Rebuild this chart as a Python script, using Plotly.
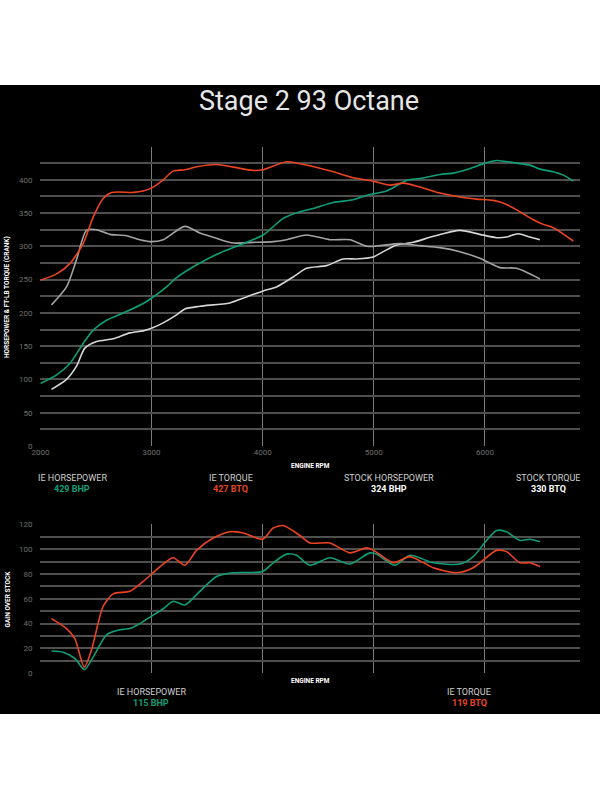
import plotly.graph_objects as go

# ---------------- data ----------------
ie_tq_rpm = [2000, 2150, 2265, 2385, 2475, 2565, 2640, 2835, 2925, 3015, 3105, 3195, 3300, 3420, 3585, 3735, 3915, 4005, 4215, 4335, 4425, 4635, 4815, 4995, 5145, 5265, 5416, 5596, 5776, 5926, 6076, 6196, 6316, 6436, 6526, 6616, 6796]
ie_tq = [249, 259, 274, 304, 344, 372, 381, 381, 383, 389, 400, 413, 415, 420, 423, 419, 414, 415, 427, 424, 421, 412, 403, 398, 392, 395, 389, 380, 374, 371, 369, 363, 352, 340, 333, 328, 308]

ie_hp_rpm = [2000, 2146, 2265, 2385, 2475, 2595, 2775, 2925, 3000, 3135, 3225, 3435, 3615, 3795, 4005, 4185, 4335, 4455, 4635, 4815, 4965, 5115, 5295, 5416, 5596, 5715, 5866, 6001, 6106, 6286, 6406, 6496, 6616, 6706, 6796]
ie_hp = [94, 107, 124, 154, 174, 189, 202, 214, 222, 239, 253, 275, 290, 302, 317, 342, 352, 357, 366, 370, 378, 383, 399, 402, 408, 410, 417, 425, 429, 425, 422, 416, 412, 407, 398]

stock_tq_rpm = [2100, 2235, 2325, 2415, 2505, 2625, 2775, 2895, 3000, 3105, 3300, 3435, 3585, 3735, 3915, 4095, 4215, 4395, 4605, 4785, 4935, 5055, 5235, 5415, 5595, 5775, 5955, 6135, 6285, 6495]
stock_tq = [212, 239, 280, 324, 325, 318, 316, 310, 307, 310, 330, 320, 312, 305, 306, 307, 310, 317, 310, 310, 300, 301, 304, 301, 298, 292, 282, 268, 267, 251]

stock_hp_rpm = [2100, 2235, 2325, 2400, 2505, 2655, 2805, 2925, 3000, 3105, 3225, 3300, 3435, 3705, 3855, 4005, 4125, 4275, 4395, 4575, 4725, 4845, 4995, 5085, 5205, 5355, 5535, 5775, 5955, 6105, 6195, 6300, 6405, 6495]
stock_hp = [85, 100, 120, 147, 157, 161, 170, 173, 177, 185, 197, 206, 210, 215, 224, 233, 239, 254, 267, 271, 281, 281, 284, 292, 302, 306, 315, 324, 318, 313, 314, 319, 314, 310]

gain_tq_rpm = [2100, 2235, 2310, 2395, 2460, 2565, 2655, 2805, 2925, 3015, 3105, 3195, 3300, 3405, 3555, 3705, 3825, 4000, 4095, 4185, 4335, 4425, 4605, 4785, 4935, 5000, 5175, 5325, 5535, 5745, 5895, 6105, 6195, 6315, 6405, 6495]
gain_tq = [44, 36, 28, 5, 19, 54, 64, 66, 74, 81, 88, 93, 87, 99, 109, 114, 113, 108, 117, 119, 111, 105, 105, 97, 101, 99, 89, 94, 85, 81, 85, 99, 98, 89, 89, 86]

gain_hp_rpm = [2100, 2205, 2310, 2395, 2475, 2595, 2715, 2805, 2895, 3000, 3105, 3195, 3300, 3435, 3585, 3735, 4000, 4095, 4215, 4305, 4425, 4605, 4785, 4965, 5025, 5190, 5325, 5535, 5775, 5895, 6015, 6105, 6195, 6315, 6405, 6495]
gain_hp = [18, 17, 12, 3, 13, 31, 35, 36, 40, 46, 52, 58, 55, 66, 78, 81, 82, 89, 96, 95, 87, 93, 88, 97, 96, 87, 95, 89, 88, 94, 107, 115, 114, 107, 108, 106]

top_yticks = list(range(0, 426, 25))
top_ylabels = [str(v) if v % 50 == 0 else "" for v in top_yticks]
x_ticks = [2000, 3000, 4000, 5000, 6000]
bot_yticks = list(range(0, 121, 10))
bot_ylabels = [str(v) if v % 20 == 0 else "" for v in bot_yticks]

legend_top = [("IE HORSEPOWER", "429 BHP"), ("IE TORQUE", "427 BTQ"),
              ("STOCK HORSEPOWER", "324 BHP"), ("STOCK TORQUE", "330 BTQ")]
legend_bot = [("IE HORSEPOWER", "115 BHP"), ("IE TORQUE", "119 BTQ")]

# ---------------- style ----------------
W, H = 600, 799
GREEN = "#0f9f78"
RED = "#ec4420"
STOCK_HP_C = "#d6d6d6"
STOCK_TQ_C = "#a3a3a3"
FONT = "Roboto"

def py(p):
    return 1 - p / H

def px(p):
    return p / W

fig = go.Figure()

def line(x, y, color, xa, ya):
    fig.add_trace(go.Scatter(x=x, y=y, mode="lines", xaxis=xa, yaxis=ya,
                             line=dict(color=color, width=1.6, shape="spline", smoothing=0.7),
                             hoverinfo="skip", showlegend=False))

line(stock_hp_rpm, stock_hp, STOCK_HP_C, "x", "y")
line(stock_tq_rpm, stock_tq, STOCK_TQ_C, "x", "y")
line(ie_hp_rpm, ie_hp, GREEN, "x", "y")
line(ie_tq_rpm, ie_tq, RED, "x", "y")
line(gain_hp_rpm, gain_hp, GREEN, "x2", "y2")
line(gain_tq_rpm, gain_tq, RED, "x2", "y2")

xdom = [px(40.4), px(580)]
xr = [2000, 6856]
grid_h = "#4f4f4f"
grid_v = "#7a7a7a"

fig.update_layout(
    width=W, height=H, autosize=False,
    margin=dict(l=0, r=0, t=0, b=0, pad=0, autoexpand=False),
    paper_bgcolor="white", plot_bgcolor="black",
    font=dict(family=FONT),
    xaxis=dict(domain=xdom, range=xr, tickmode="array", tickvals=x_ticks,
               showgrid=True, gridcolor=grid_v, gridwidth=1.2, zeroline=False,
               showline=False, ticks="", tickfont=dict(size=8, color="#6e6e6e"),
               automargin=False, anchor="y"),
    yaxis=dict(domain=[py(446), py(146.5)], range=[0, 450], tickmode="array",
               tickvals=top_yticks, ticktext=top_ylabels,
               showgrid=True, gridcolor=grid_h, gridwidth=1.5, zeroline=False,
               showline=False, ticks="", ticklabelstandoff=7, automargin=False,
               tickfont=dict(size=8, color="#6e6e6e"), anchor="x"),
    xaxis2=dict(domain=xdom, range=xr, tickmode="array", tickvals=x_ticks,
                showticklabels=False, showgrid=True, gridcolor=grid_v, gridwidth=1.2,
                zeroline=False, showline=False, ticks="", automargin=False, anchor="y2"),
    yaxis2=dict(domain=[py(673.3), py(524.3)], range=[0, 120], tickmode="array",
                tickvals=bot_yticks, ticktext=bot_ylabels,
                showgrid=True, gridcolor=grid_h, gridwidth=1.5, zeroline=False,
                showline=False, ticks="", ticklabelstandoff=7, automargin=False,
                tickfont=dict(size=8, color="#6e6e6e"), anchor="x2"),
    shapes=[dict(type="rect", xref="paper", yref="paper", x0=0, x1=1,
                 y0=py(714), y1=py(85), fillcolor="black", line=dict(width=0),
                 layer="below")],
)

ann = []
def txt(x, y, s, size, color, bold=False, angle=0):
    ann.append(dict(x=px(x), y=py(y), xref="paper", yref="paper", text=(f"<b>{s}</b>" if bold else s),
                    showarrow=False, xanchor="center", yanchor="middle", textangle=angle,
                    font=dict(family=FONT, size=size, color=color)))

txt(309, 101, "Stage 2 93 Octane", 27, "#e6e6e6")
txt(310.5, 466, "ENGINE RPM", 6.5, "white", bold=True)
txt(310.5, 681, "ENGINE RPM", 6.5, "white", bold=True)
txt(7, 297, "HORSEPOWER &amp; FT-LB TORQUE (CRANK)", 6.5, "white", bold=True, angle=-90)
txt(7.5, 599, "GAIN OVER STOCK", 6.5, "white", bold=True, angle=-90)

top_cx = [72, 230.5, 389, 548]
top_cols = [GREEN, RED, "white", "white"]
for (lab, val), cx, c in zip(legend_top, top_cx, top_cols):
    txt(cx, 478, lab, 9, "#cfcfcf")
    txt(cx, 489.5, val, 9, c, bold=True)

bot_cx = [151, 469]
bot_cols = [GREEN, RED]
for (lab, val), cx, c in zip(legend_bot, bot_cx, bot_cols):
    txt(cx, 692, lab, 9, "#cfcfcf")
    txt(cx, 703, val, 9, c, bold=True)

fig.update_layout(annotations=ann)
fig.write_html("out.html", config={"responsive": False})
